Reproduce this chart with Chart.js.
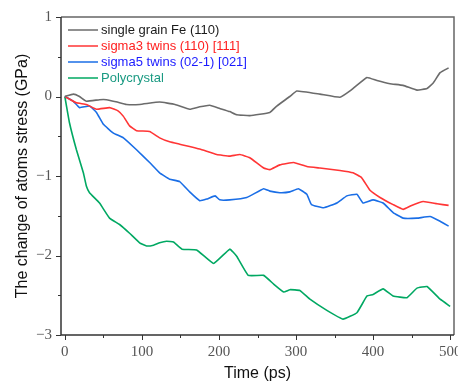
<!DOCTYPE html>
<html>
<head>
<meta charset="utf-8">
<script src="https://cdn.jsdelivr.net/npm/chart.js@4"></script>
<style>
  html, body { margin: 0; padding: 0; background: #fff; }
  #wrap { width: 458px; height: 383px; }
</style>
</head>
<body>
<div id="wrap"><canvas id="stressChart" width="458" height="383"></canvas></div>
<script>
// series: [time ps, stress change GPa]
const singleGrain = [[0,0],[11,0.03],[19,0],[28,-0.06],[45,-0.04],[54,-0.04],[68,-0.07],[80,-0.1],[97,-0.1],[123,-0.07],[143,-0.1],[162,-0.16],[175,-0.13],[188,-0.11],[201,-0.15],[214,-0.19],[223,-0.23],[240,-0.24],[266,-0.2],[275,-0.12],[292,0.0],[301,0.07],[331,0.03],[357,-0.01],[370,0.07],[392,0.24],[405,0.2],[422,0.16],[439,0.14],[457,0.08],[470,0.1],[478,0.17],[487,0.3],[498,0.36]];
const sigma3 = [[0,0],[15,-0.08],[28,-0.1],[41,-0.16],[58,-0.14],[69,-0.18],[76,-0.25],[84,-0.37],[93,-0.43],[110,-0.44],[123,-0.52],[136,-0.57],[149,-0.6],[175,-0.66],[197,-0.73],[214,-0.75],[227,-0.73],[240,-0.77],[258,-0.9],[266,-0.92],[279,-0.86],[297,-0.83],[314,-0.88],[331,-0.9],[357,-0.93],[374,-0.96],[385,-1.02],[396,-1.18],[409,-1.27],[426,-1.36],[439,-1.42],[450,-1.37],[465,-1.32],[483,-1.35],[498,-1.37]];
const sigma5 = [[0,0],[11,-0.06],[19,-0.14],[32,-0.12],[41,-0.2],[50,-0.35],[63,-0.46],[76,-0.52],[93,-0.67],[110,-0.83],[123,-0.96],[136,-1.04],[149,-1.07],[162,-1.2],[175,-1.31],[184,-1.29],[195,-1.25],[201,-1.3],[214,-1.3],[236,-1.27],[258,-1.16],[266,-1.19],[279,-1.21],[292,-1.2],[303,-1.16],[314,-1.23],[320,-1.36],[336,-1.4],[353,-1.34],[366,-1.25],[379,-1.23],[387,-1.34],[400,-1.3],[413,-1.34],[426,-1.46],[439,-1.53],[457,-1.53],[474,-1.51],[487,-1.57],[498,-1.63]];
const polycrystal = [[0,0],[6,-0.33],[15,-0.67],[24,-0.96],[28,-1.13],[32,-1.21],[45,-1.34],[58,-1.53],[71,-1.61],[84,-1.72],[97,-1.84],[106,-1.88],[115,-1.87],[123,-1.84],[132,-1.82],[141,-1.83],[152,-1.92],[171,-1.93],[193,-2.1],[214,-1.92],[223,-2.01],[238,-2.25],[258,-2.25],[271,-2.36],[284,-2.46],[292,-2.43],[305,-2.44],[318,-2.55],[340,-2.69],[361,-2.8],[379,-2.72],[392,-2.51],[400,-2.49],[413,-2.42],[426,-2.51],[444,-2.53],[457,-2.41],[470,-2.39],[487,-2.55],[500,-2.64]];

const seriesNames = ['single grain Fe (110)', 'sigma3 twins (110) [111]', 'sigma5 twins (02-1) [021]', 'Polycrystal'];
const lineColors = ['#6b6b6b', '#ff3535', '#1a6ee6', '#00a862'];
const textColors = ['#1a1a1a', '#ff2020', '#1a1aff', '#1a9a82'];
const xTicks = [0, 100, 200, 300, 400, 500];
const yTicks = [-3, -2, -1, 0, 1];

const toPts = arr => arr.map(p => ({ x: p[0], y: p[1] }));
const allSeries = [singleGrain, sigma3, sigma5, polycrystal];

const tickFont = '15px "Liberation Serif", "DejaVu Serif", serif';

// frame, minor ticks and in-plot legend
const decorPlugin = {
  id: 'decor',
  afterDraw(chart) {
    const { ctx, chartArea: a, scales } = chart;
    const xs = scales.x, ys = scales.y;
    ctx.save();
    // top + right frame
    ctx.strokeStyle = '#666';
    ctx.lineWidth = 1.5;
    ctx.beginPath();
    ctx.moveTo(a.left, a.top); ctx.lineTo(a.right, a.top); ctx.lineTo(a.right, a.bottom);
    ctx.stroke();
    // left + bottom axes
    ctx.strokeStyle = '#333';
    ctx.beginPath();
    ctx.moveTo(a.left, a.top); ctx.lineTo(a.left, a.bottom); ctx.lineTo(a.right, a.bottom);
    ctx.stroke();
    // ticks
    ctx.lineWidth = 1;
    for (let v = 0; v <= 500; v += 50) {
      const px = Math.round(xs.getPixelForValue(v)) + 0.5;
      const len = v % 100 === 0 ? 5 : 3;
      ctx.beginPath(); ctx.moveTo(px, a.bottom); ctx.lineTo(px, a.bottom + len); ctx.stroke();
    }
    for (let v = -3; v <= 1; v += 0.5) {
      const py = Math.round(ys.getPixelForValue(v)) + 0.5;
      const len = Number.isInteger(v) ? 5 : 3;
      ctx.beginPath(); ctx.moveTo(a.left, py); ctx.lineTo(a.left - len, py); ctx.stroke();
    }
    // tick labels
    ctx.fillStyle = '#555';
    ctx.font = tickFont;
    ctx.textAlign = 'center';
    ctx.textBaseline = 'top';
    xTicks.forEach(v => ctx.fillText(String(v), xs.getPixelForValue(v), a.bottom + 10));
    ctx.textAlign = 'right';
    ctx.textBaseline = 'middle';
    yTicks.forEach(v => ctx.fillText(v < 0 ? '\u2212' + Math.abs(v) : String(v), a.left - 9, ys.getPixelForValue(v)));
    // legend
    ctx.font = '13px "Liberation Sans", Arial, sans-serif';
    ctx.textAlign = 'left';
    chart.data.datasets.forEach((ds, i) => {
      const y = a.top + 13 + i * 16;
      ctx.strokeStyle = ds.borderColor;
      ctx.lineWidth = 1.5;
      ctx.beginPath(); ctx.moveTo(a.left + 7, y); ctx.lineTo(a.left + 37, y); ctx.stroke();
      ctx.fillStyle = textColors[i];
      ctx.fillText(ds.label, a.left + 40, y);
    });
    ctx.restore();
  }
};

new Chart(document.getElementById('stressChart').getContext('2d'), {
  type: 'scatter',
  data: {
    datasets: allSeries.map((s, i) => ({
      label: seriesNames[i],
      data: toPts(s),
      showLine: true,
      borderColor: lineColors[i],
      backgroundColor: lineColors[i],
      borderWidth: 1.6,
      pointRadius: 0,
      tension: 0.1
    }))
  },
  options: {
    responsive: false,
    animation: false,
    layout: { padding: { left: 13, right: 4, top: 17, bottom: 0 } },
    plugins: { legend: { display: false }, tooltip: { enabled: false } },
    scales: {
      x: {
        type: 'linear', min: -5, max: 505,
        grid: { display: false },
        border: { display: false },
        ticks: { display: false },
        title: { display: true, text: 'Time (ps)', color: '#111', font: { family: '"Liberation Sans", Arial, sans-serif', size: 16 }, padding: 0 },
        afterFit: s => { s.height = 48; }
      },
      y: {
        min: -3, max: 1,
        grid: { display: false },
        border: { display: false },
        ticks: { display: false },
        title: { display: true, text: 'The change of atoms stress (GPa)', color: '#111', font: { family: '"Liberation Sans", Arial, sans-serif', size: 16 }, padding: 0 },
        afterFit: s => { s.width = 48; }
      }
    }
  },
  plugins: [decorPlugin]
});
</script>
</body>
</html>
